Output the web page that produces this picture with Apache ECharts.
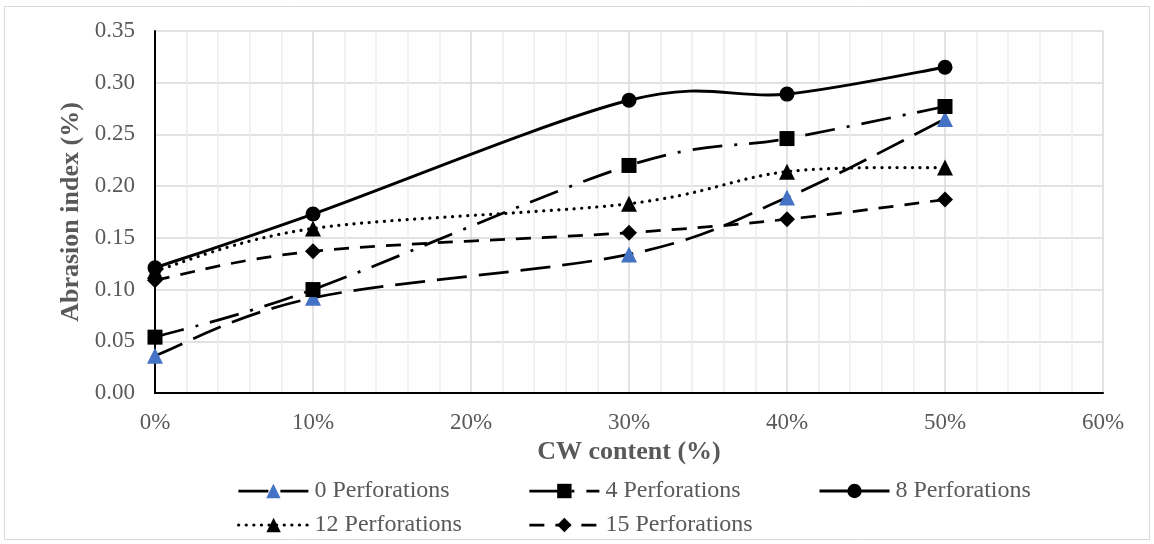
<!DOCTYPE html>
<html>
<head>
<meta charset="utf-8">
<script src="https://cdn.jsdelivr.net/npm/echarts@6/dist/echarts.min.js"></script>
<style>
  html, body { margin: 0; padding: 0; background: #ffffff; }
  #chart { width: 1154px; height: 544px; }
</style>
</head>
<body>
<div id="chart"></div>
<script>
// CW content (x, fraction) and abrasion index (%) for each perforation count
const cwContent = [0, 0.10, 0.30, 0.40, 0.50];
const perf0  = [0.036, 0.092, 0.134, 0.189, 0.265];
const perf4  = [0.054, 0.100, 0.220, 0.246, 0.277];
const perf8  = [0.121, 0.173, 0.283, 0.289, 0.315];
const perf12 = [0.118, 0.159, 0.183, 0.214, 0.218];
const perf15 = [0.109, 0.137, 0.155, 0.168, 0.187];

const seriesNames = ['0 Perforations', '4 Perforations', '8 Perforations', '12 Perforations', '15 Perforations'];

const FONT = '"Liberation Serif", "Times New Roman", serif';
const TEXT = '#595959';

function pairs(ys) {
  return cwContent.map((x, i) => [x, ys[i]]);
}

// Catmull-Rom style smoothing (control points at 1/6 of the neighbour chord)
function smoothPath(pts) {
  let d = 'M' + pts[0][0] + ',' + pts[0][1];
  const n = pts.length;
  for (let i = 0; i < n - 1; i++) {
    const p0 = pts[Math.max(i - 1, 0)];
    const p1 = pts[i];
    const p2 = pts[i + 1];
    const p3 = pts[Math.min(i + 2, n - 1)];
    const c1x = p1[0] + (p2[0] - p0[0]) / 6;
    const c1y = p1[1] + (p2[1] - p0[1]) / 6;
    const c2x = p2[0] - (p3[0] - p1[0]) / 6;
    const c2y = p2[1] - (p3[1] - p1[1]) / 6;
    d += ' C' + c1x + ',' + c1y + ' ' + c2x + ',' + c2y + ' ' + p2[0] + ',' + p2[1];
  }
  return d;
}

const styles = [
  { symbol: 'triangle', symbolSize: 16, markerColor: '#4472C4', dash: [30, 12], cap: 'butt', width: 2.75 },
  { symbol: 'rect',     symbolSize: 15, markerColor: '#000000', dash: [30, 12, 3, 12], cap: 'butt', width: 2.75 },
  { symbol: 'circle',   symbolSize: 15, markerColor: '#000000', dash: 'solid', cap: 'butt', width: 3 },
  { symbol: 'triangle', symbolSize: 16, markerColor: '#000000', dash: [0.1, 7.5], cap: 'round', width: 3.2 },
  { symbol: 'diamond',  symbolSize: 16, markerColor: '#000000', dash: [15, 11], cap: 'butt', width: 2.75 }
];
const allValues = [perf0, perf4, perf8, perf12, perf15];

const series = [];
allValues.forEach((ys, k) => {
  const st = styles[k];
  // smoothed connecting curve, drawn through the axis scales
  series.push({
    type: 'custom',
    name: 'curve-' + k,
    coordinateSystem: 'cartesian2d',
    data: pairs(ys),
    encode: { x: 0, y: 1 },
    silent: true,
    z: 2 + k * 0.1,
    renderItem: function (params, api) {
      if (params.dataIndex !== 0) return null;
      const pts = cwContent.map((x, i) => api.coord([x, ys[i]]));
      return {
        type: 'path',
        shape: { pathData: smoothPath(pts) },
        style: {
          fill: null,
          stroke: '#000000',
          lineWidth: st.width,
          lineDash: st.dash === 'solid' ? null : st.dash,
          lineCap: st.cap
        }
      };
    }
  });
  // markers (and legend entry)
  series.push({
    name: seriesNames[k],
    type: 'line',
    data: pairs(ys),
    symbol: st.symbol,
    symbolSize: st.symbolSize,
    showAllSymbol: true,
    itemStyle: { color: st.markerColor, opacity: 1 },
    lineStyle: { color: '#000000', width: st.width, opacity: 0 },
    z: 4 + k * 0.1
  });
});

// one legend block per entry, laid out in two rows of columns
const legendSlots = [
  { left: 237, top: 479 },
  { left: 528, top: 479 },
  { left: 818, top: 479 },
  { left: 237, top: 513 },
  { left: 528, top: 513 }
];
const legends = seriesNames.map((name, i) => ({
  data: [name],
  left: legendSlots[i].left,
  top: legendSlots[i].top,
  orient: 'horizontal',
  itemWidth: 70,
  itemHeight: 18,
  padding: 0,
  selectedMode: false,
  lineStyle: {
    color: '#000000',
    width: styles[i].width,
    type: styles[i].dash,
    cap: styles[i].cap,
    opacity: 1
  },
  textStyle: { fontFamily: FONT, fontSize: 24, color: TEXT, padding: [2, 0, 0, 1] }
}));

const chart = echarts.init(document.getElementById('chart'), null, { renderer: 'canvas' });
chart.setOption({
  animation: false,
  backgroundColor: '#ffffff',
  graphic: [{
    type: 'rect',
    shape: { x: 4.5, y: 6.5, width: 1145, height: 533 },
    style: { fill: 'none', stroke: '#d9d9d9', lineWidth: 1 },
    silent: true,
    z: -10
  }],
  grid: { left: 155, right: 51, top: 31, bottom: 151, containLabel: false },
  legend: legends,
  xAxis: {
    type: 'value',
    min: 0,
    max: 0.6,
    interval: 0.1,
    name: 'CW content (%)',
    nameLocation: 'middle',
    nameGap: 44,
    nameTextStyle: { fontFamily: FONT, fontSize: 26, fontWeight: 'bold', color: TEXT },
    axisLine: { show: true, onZero: false, lineStyle: { color: '#000000', width: 2 } },
    axisTick: { show: false },
    axisLabel: {
      margin: 18,
      fontFamily: FONT, fontSize: 23, color: TEXT,
      formatter: v => Math.round(v * 100) + '%'
    },
    splitLine: { show: true, lineStyle: { color: '#d9d9d9', width: 1.5 } },
    minorTick: { show: false, splitNumber: 5 },
    minorSplitLine: { show: true, lineStyle: { color: '#ededed', width: 1.5 } }
  },
  yAxis: {
    type: 'value',
    min: 0,
    max: 0.35,
    interval: 0.05,
    name: 'Abrasion index (%)',
    nameLocation: 'middle',
    nameRotate: 90,
    nameGap: 64,
    nameTextStyle: { fontFamily: FONT, fontSize: 26, fontWeight: 'bold', color: TEXT },
    axisLine: { show: true, onZero: false, lineStyle: { color: '#000000', width: 2 } },
    axisTick: { show: false },
    axisLabel: {
      margin: 20,
      fontFamily: FONT, fontSize: 23, color: TEXT,
      formatter: v => v.toFixed(2)
    },
    splitLine: { show: true, lineStyle: { color: '#d9d9d9', width: 1.5 } }
  },
  series: series
});
</script>
</body>
</html>
